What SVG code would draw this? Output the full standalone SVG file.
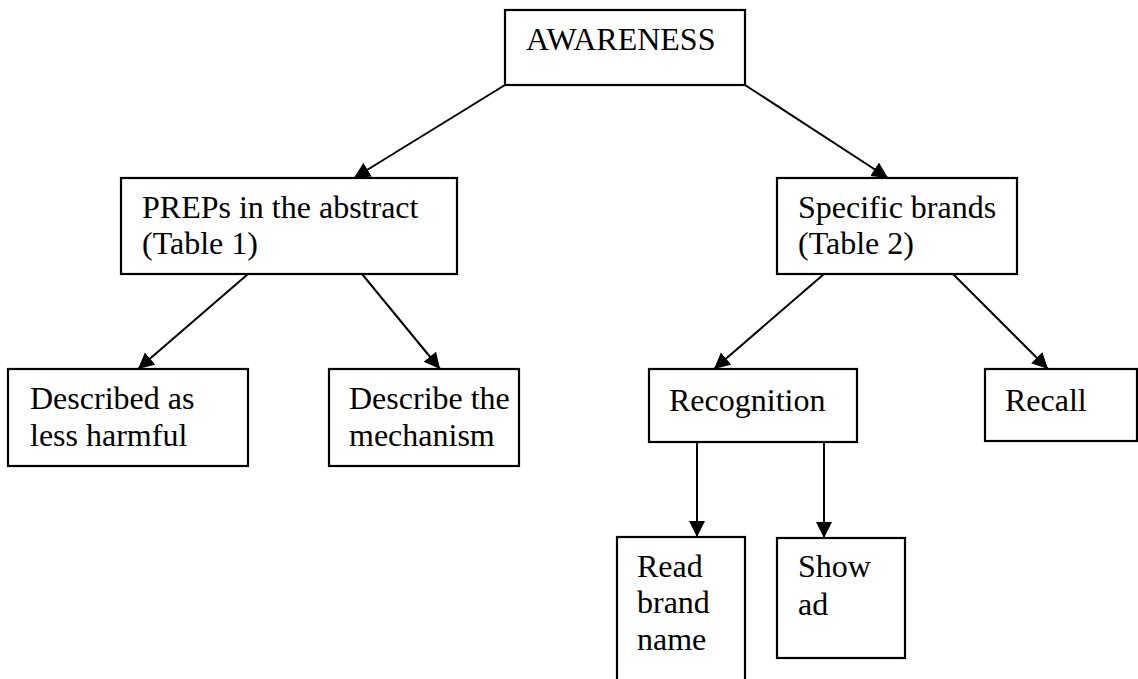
<svg xmlns="http://www.w3.org/2000/svg" width="1138" height="679" viewBox="0 0 1138 679">
<style>
.box{fill:#fff;stroke:#000;stroke-width:2.2}
.t{font-family:"Liberation Serif","Times New Roman",serif;font-size:32px;fill:#000}
.c{stroke:#000;stroke-width:2;fill:none}
</style>
<defs>
<marker id="ah" markerUnits="userSpaceOnUse" markerWidth="18" markerHeight="18" refX="16" refY="8" orient="auto">
<path d="M0,0 L16,8 L0,16 Z" fill="#000"/>
</marker>
</defs>
<rect width="1138" height="679" fill="#fff"/>
<g id="connectors">
<line class="c" x1="505" y1="85" x2="354" y2="178" marker-end="url(#ah)"/>
<line class="c" x1="745" y1="85" x2="888" y2="178" marker-end="url(#ah)"/>
<line class="c" x1="248" y1="274" x2="138" y2="369" marker-end="url(#ah)"/>
<line class="c" x1="362" y1="274" x2="440" y2="369" marker-end="url(#ah)"/>
<line class="c" x1="824" y1="274" x2="714" y2="369" marker-end="url(#ah)"/>
<line class="c" x1="953" y1="274" x2="1048" y2="369" marker-end="url(#ah)"/>
<line class="c" x1="697" y1="442" x2="697" y2="537" marker-end="url(#ah)"/>
<line class="c" x1="824" y1="443" x2="824" y2="538" marker-end="url(#ah)"/>
</g>
<g id="awareness">
<rect class="box" x="505" y="10" width="240" height="75"/>
<text class="t" x="526" y="50">AWARENESS</text>
</g>
<g id="preps">
<rect class="box" x="121" y="178" width="336" height="96"/>
<text class="t" x="142" y="218">PREPs in the abstract</text>
<text class="t" x="142" y="254">(Table 1)</text>
</g>
<g id="brands">
<rect class="box" x="777" y="178" width="240" height="96"/>
<text class="t" x="798" y="218">Specific brands</text>
<text class="t" x="798" y="254">(Table 2)</text>
</g>
<g id="described">
<rect class="box" x="8" y="369" width="240" height="97"/>
<text class="t" x="30" y="409">Described as</text>
<text class="t" x="30" y="446">less harmful</text>
</g>
<g id="describe">
<rect class="box" x="329" y="369" width="190" height="97"/>
<text class="t" x="349" y="409">Describe the</text>
<text class="t" x="349" y="446">mechanism</text>
</g>
<g id="recognition">
<rect class="box" x="649" y="369" width="208" height="73"/>
<text class="t" x="669" y="411">Recognition</text>
</g>
<g id="recall">
<rect class="box" x="985" y="369" width="152" height="72"/>
<text class="t" x="1005" y="411">Recall</text>
</g>
<g id="read">
<rect class="box" x="617" y="537" width="128" height="160"/>
<text class="t" x="637" y="577">Read</text>
<text class="t" x="637" y="613">brand</text>
<text class="t" x="637" y="650">name</text>
</g>
<g id="show">
<rect class="box" x="777" y="538" width="128" height="120"/>
<text class="t" x="798" y="577">Show</text>
<text class="t" x="798" y="615">ad</text>
</g>
</svg>
